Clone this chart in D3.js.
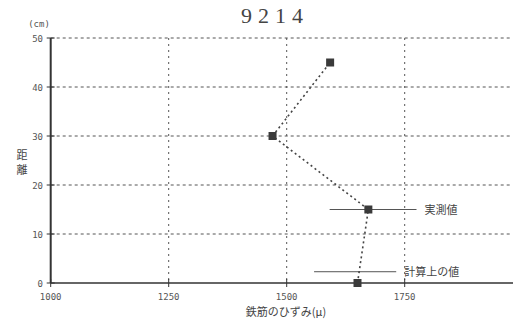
<!DOCTYPE html>
<html>
<head>
<meta charset="utf-8">
<script src="https://cdn.jsdelivr.net/npm/d3@7"></script>
<style>
body { margin: 0; background: #fff; }
svg { display: block; }
.tick-lbl { font-family: 'DejaVu Sans Mono', monospace; font-size: 9px; fill: #555; }
.jp { font-family: 'Noto Sans CJK JP', sans-serif; fill: #444; }
</style>
</head>
<body>
<svg id="chart" width="513" height="323"></svg>
<script>
// strain values (micro) and depth (cm)
var strain = [1650, 1673, 1470, 1592],
    depth = [0, 15, 30, 45];
var xTicks = [1000, 1250, 1500, 1750],
    yTicks = [0, 10, 20, 30, 40, 50];
// annotation lines: [x1, x2, y, label]
var notes = [
    [1591, 1775, 15, '実測値'],
    [1558, 1732, 2.3, '計算上の値']
];

var svg = d3.select('#chart');
var x = d3.scaleLinear().domain([1000, 2000]).range([50.7, 522.7]),
    y = d3.scaleLinear().domain([0, 50]).range([283, 38]);

// grid
svg.append('g').selectAll('line')
    .data(yTicks.slice(1))
    .enter().append('line')
    .attr('x1', x(1000)).attr('x2', 510)
    .attr('y1', function (d) { return y(d); })
    .attr('y2', function (d) { return y(d); })
    .attr('stroke', '#555').attr('stroke-width', 1)
    .attr('stroke-dasharray', '3,3');
svg.append('g').selectAll('line')
    .data(xTicks.slice(1))
    .enter().append('line')
    .attr('x1', function (d) { return x(d); })
    .attr('x2', function (d) { return x(d); })
    .attr('y1', y(50)).attr('y2', y(0))
    .attr('stroke', '#555').attr('stroke-width', 1)
    .attr('stroke-dasharray', '2,4');

// axes
svg.append('line')
    .attr('x1', x(1000)).attr('x2', 513)
    .attr('y1', y(0)).attr('y2', y(0))
    .attr('stroke', '#333').attr('stroke-width', 1.5);
svg.append('line')
    .attr('x1', x(1000)).attr('x2', x(1000))
    .attr('y1', y(50)).attr('y2', y(0))
    .attr('stroke', '#333').attr('stroke-width', 2);

// ticks
svg.append('g').selectAll('line')
    .data(xTicks)
    .enter().append('line')
    .attr('x1', function (d) { return x(d); })
    .attr('x2', function (d) { return x(d); })
    .attr('y1', y(0) - 4).attr('y2', y(0) + 4)
    .attr('stroke', '#333').attr('stroke-width', 1);
svg.append('g').selectAll('line')
    .data(yTicks)
    .enter().append('line')
    .attr('x1', x(1000) - 4).attr('x2', x(1000) + 4)
    .attr('y1', function (d) { return y(d); })
    .attr('y2', function (d) { return y(d); })
    .attr('stroke', '#333').attr('stroke-width', 1);

// tick labels
svg.append('g').selectAll('text')
    .data(xTicks)
    .enter().append('text')
    .attr('class', 'tick-lbl')
    .attr('x', function (d) { return x(d); })
    .attr('y', 300)
    .attr('text-anchor', 'middle')
    .text(function (d) { return d; });
svg.append('g').selectAll('text')
    .data(yTicks)
    .enter().append('text')
    .attr('class', 'tick-lbl')
    .attr('x', 43)
    .attr('y', function (d) { return y(d) + 3.5; })
    .attr('text-anchor', 'end')
    .text(function (d) { return d; });

// titles
svg.append('text')
    .attr('x', 275).attr('y', 23)
    .attr('text-anchor', 'middle')
    .attr('font-family', 'Liberation Serif, serif')
    .attr('font-size', 22)
    .attr('letter-spacing', 6)
    .attr('fill', '#444')
    .text('9214');
svg.append('text')
    .attr('class', 'tick-lbl')
    .attr('x', 39).attr('y', 27)
    .attr('text-anchor', 'middle')
    .attr('font-size', 9)
    .text('(cm)');
svg.append('text')
    .attr('class', 'jp')
    .attr('x', 286).attr('y', 316)
    .attr('text-anchor', 'middle')
    .attr('font-size', 11)
    .text('鉄筋のひずみ(μ)');
svg.append('text')
    .attr('class', 'jp')
    .attr('x', 22).attr('y', 159)
    .attr('text-anchor', 'middle')
    .attr('font-size', 11)
    .text('距');
svg.append('text')
    .attr('class', 'jp')
    .attr('x', 22).attr('y', 174)
    .attr('text-anchor', 'middle')
    .attr('font-size', 11)
    .text('離');

// annotations
var note = svg.append('g').selectAll('g')
    .data(notes)
    .enter().append('g');
note.append('line')
    .attr('x1', function (d) { return x(d[0]); })
    .attr('x2', function (d) { return x(d[1]); })
    .attr('y1', function (d) { return y(d[2]); })
    .attr('y2', function (d) { return y(d[2]); })
    .attr('stroke', '#555').attr('stroke-width', 1);
note.append('text')
    .attr('class', 'jp')
    .attr('x', function (d) { return x(d[1]) + 8; })
    .attr('y', function (d) { return y(d[2]) + 4; })
    .attr('font-size', 11)
    .text(function (d) { return d[3]; });

// data line and markers
var pts = strain.map(function (s, i) { return [s, depth[i]]; });
svg.append('path')
    .datum(pts)
    .attr('d', d3.line()
        .x(function (d) { return x(d[0]); })
        .y(function (d) { return y(d[1]); }))
    .attr('fill', 'none')
    .attr('stroke', '#444').attr('stroke-width', 1.6)
    .attr('stroke-dasharray', '2,3');
svg.append('g').selectAll('rect')
    .data(pts)
    .enter().append('rect')
    .attr('x', function (d) { return x(d[0]) - 4; })
    .attr('y', function (d) { return y(d[1]) - 4; })
    .attr('width', 8).attr('height', 8)
    .attr('fill', '#3a3a3a');
</script>
</body>
</html>
